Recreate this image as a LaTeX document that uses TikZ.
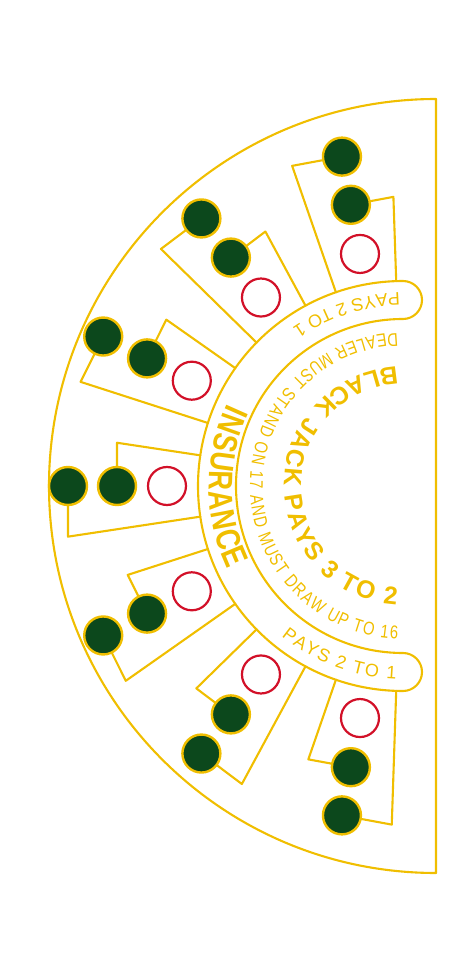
\documentclass[tikz,border=0pt]{standalone}
\usepackage{fontspec}
\setmainfont{Liberation Sans}
\newfontfamily\dealerfont[FakeStretch=0.8]{Liberation Sans}
\newfontfamily\insfont[FakeStretch=0.8]{Liberation Sans}
\usetikzlibrary{calc,decorations.text}
\definecolor{gold}{RGB}{240,190,0}
\definecolor{felt}{RGB}{12,72,28}
\definecolor{chipred}{RGB}{210,16,40}

\begin{document}
\begin{tikzpicture}[x=1pt,y=1pt,line cap=round,line join=round,
  rim/.style={draw=gold,line width=2.1pt},
  chip/.style={draw=gold,fill=felt,line width=2.4pt},
  ring/.style={draw=chipred,fill=white,line width=2.2pt}]
  \useasboundingbox (-403,-486) rectangle (55,486);
  \coordinate (P) at (0,0);
  % table edge
  \draw[rim] (33,387) arc[start angle=90,end angle=270,radius=387] -- cycle;
  % insurance band with round ends
  \draw[rim] (90:205) arc[start angle=90,end angle=270,radius=205]
    arc[start angle=270,end angle=450,radius=19]
    arc[start angle=270,end angle=90,radius=167]
    arc[start angle=270,end angle=450,radius=19] -- cycle;
  % seven seats
  \foreach \a in {100.5,127,153.5,180,206.5,233,259.5} {
    \draw[rim] (\a+8.6:205) -- (\a+8.6:338.8) -- (\a:335);
    \draw[rim] (\a-8.6:205) -- (\a-8.6:289.3) -- (\a:286);
    \draw[chip] (\a:335) circle (19);
    \draw[chip] (\a:286) circle (19);
    \draw[ring] (\a:236) circle (19);
  }
  % texts along the arcs
  \path[decorate,decoration={text along path,text align={fit to path},
    text={|\color{gold}\bfseries\fontsize{25}{25}\selectfont|BLACK JACK PAYS 3 TO 2}}]
    (93:119) arc[start angle=93,end angle=267,radius=119];
  \path[decorate,decoration={text along path,text align={fit to path},
    text={|\color{gold}\dealerfont\fontsize{18.5}{18.5}\selectfont|DEALER MUST STAND ON 17 AND MUST DRAW UP TO 16}}]
    (92:153) arc[start angle=92,end angle=268,radius=153];
  \path[decorate,decoration={text along path,text align={fit to path},
    text={|\color{gold}\insfont\bfseries\fontsize{34}{34}\selectfont|INSURANCE}}]
    (155:194) arc[start angle=155,end angle=205.5,radius=194];
  \path[decorate,decoration={text along path,text align={fit to path},
    text={|\color{gold}\fontsize{18}{18}\selectfont|PAYS 2 TO 1}}]
    (91:193) arc[start angle=91,end angle=125,radius=193];
  \path[decorate,decoration={text along path,text align={fit to path},
    text={|\color{gold}\fontsize{18}{18}\selectfont|PAYS 2 TO 1}}]
    (231:193) arc[start angle=231,end angle=268,radius=193];
\end{tikzpicture}
\end{document}
